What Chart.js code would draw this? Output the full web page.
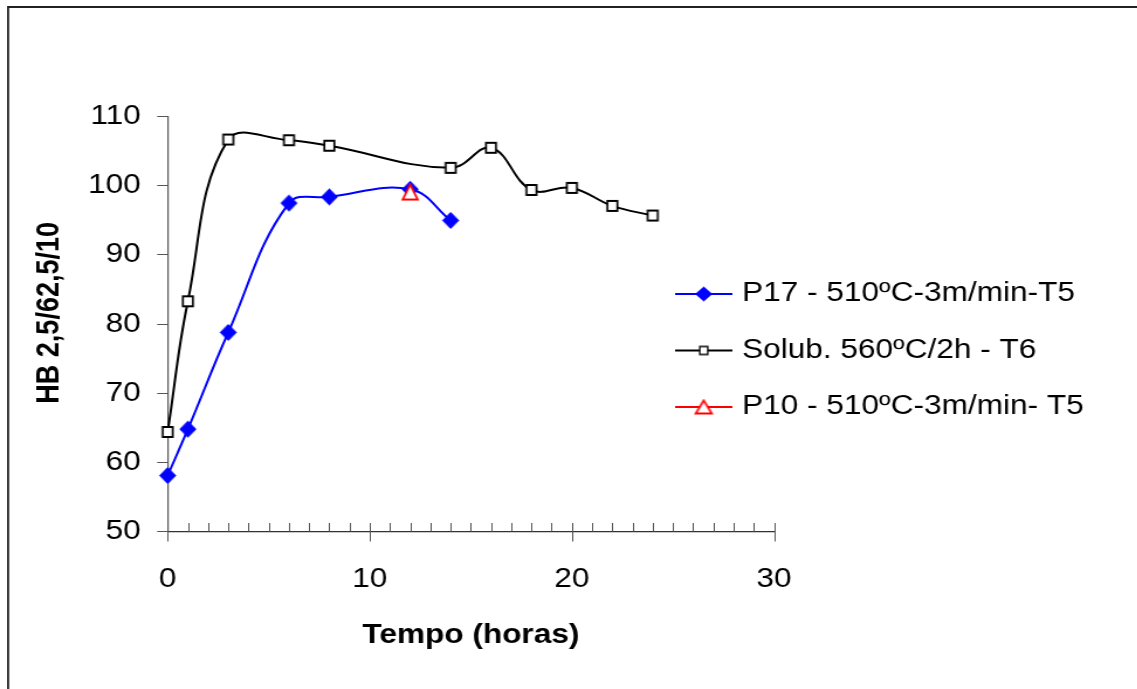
<!DOCTYPE html>
<html>
<head>
<meta charset="utf-8">
<script src="https://cdn.jsdelivr.net/npm/chart.js@4.4.0/dist/chart.umd.min.js"></script>
<style>
  html, body { margin: 0; padding: 0; background: #fff; overflow: hidden; }
  /* the original picture is stretched sideways, so the whole canvas is too */
  #wrap { width: 972px; height: 689px; transform: scaleX(1.17); transform-origin: 0 0; }
  canvas { display: block; }
</style>
</head>
<body>
<div id="wrap"><canvas id="myChart" width="972" height="689"></canvas></div>
<script>
const S = 1.17;
const FONT = 'Arial, "Liberation Sans", sans-serif';

// Tempo (horas) / dureza HB
const timeP17 = [0, 1, 3, 6, 8, 12, 14];
const hbP17 = [58.1, 64.8, 78.8, 97.5, 98.4, 99.5, 95.0];

const timeSolub = [0, 1, 3, 6, 8, 14, 16, 18, 20, 22, 24];
const hbSolub = [64.4, 83.3, 106.7, 106.6, 105.8, 102.6, 105.5, 99.4, 99.7, 97.1, 95.7];

const timeP10 = [12];
const hbP10 = [99.1];

const seriesNames = ['P17 - 510ºC-3m/min-T5', 'Solub. 560ºC/2h - T6', 'P10 - 510ºC-3m/min- T5'];

const xTickLabels = [0, 10, 20, 30];
const yTickLabels = [50, 60, 70, 80, 90, 100, 110];

function toPoints(xs, ys) {
  return xs.map((x, i) => ({ x: x, y: ys[i] }));
}

// markers are drawn squeezed so they come out right after the stretch
function makeMarker(kind, w, h, fill, stroke, lw) {
  const c = document.createElement('canvas');
  c.width = Math.ceil((w + lw) / S) + 2;
  c.height = Math.ceil(h + lw) + 2;
  const g = c.getContext('2d');
  g.translate(c.width / 2, c.height / 2);
  g.scale(1 / S, 1);
  g.beginPath();
  if (kind === 'square') {
    g.rect(-w / 2, -h / 2, w, h);
  } else if (kind === 'diamond') {
    g.moveTo(0, -h / 2); g.lineTo(w / 2, 0); g.lineTo(0, h / 2); g.lineTo(-w / 2, 0); g.closePath();
  } else {
    g.moveTo(0, -h / 2); g.lineTo(w / 2, h / 2); g.lineTo(-w / 2, h / 2); g.closePath();
  }
  g.fillStyle = fill;
  g.fill();
  g.lineWidth = lw;
  g.strokeStyle = stroke;
  g.stroke();
  return c;
}

const diamondDot = makeMarker('diamond', 16, 16, '#0000ff', '#0000ff', 1);
const squareDot = makeMarker('square', 10, 10, '#ffffff', '#000000', 2);
const triDot = makeMarker('triangle', 15, 15, '#ffffff', '#ff0000', 2);

const legendItems = [
  { color: '#0000ff', marker: makeMarker('diamond', 16, 14, '#0000ff', '#0000ff', 1), y: 294 },
  { color: '#000000', marker: makeMarker('square', 8, 8, '#ffffff', '#000000', 1.5), y: 350.5 },
  { color: '#ff0000', marker: makeMarker('triangle', 16, 13, '#ffffff', '#ff0000', 2), y: 407 }
];

const framePlugin = {
  id: 'frame',
  beforeDraw(chart) {
    const ctx = chart.ctx;
    ctx.save();
    ctx.fillStyle = '#fff';
    ctx.fillRect(0, 0, chart.width, chart.height);
    ctx.strokeStyle = '#222';
    ctx.lineWidth = 1.8;
    ctx.beginPath();
    ctx.moveTo(6.9, chart.height);
    ctx.lineTo(6.9, 7);
    ctx.lineTo(chart.width, 7);
    ctx.stroke();
    ctx.restore();
  },
  beforeDatasetsDraw(chart) {
    // x axis: minor ticks inside, major ticks crossing the axis
    const ctx = chart.ctx;
    const xs = chart.scales.x;
    const base = chart.chartArea.bottom;
    ctx.save();
    ctx.strokeStyle = '#555';
    ctx.lineWidth = 1;
    ctx.beginPath();
    for (let v = xs.min; v <= xs.max; v++) {
      const px = Math.round(xs.getPixelForValue(v)) + 0.5;
      ctx.moveTo(px, base - 8.5);
      ctx.lineTo(px, xTickLabels.includes(v) ? base + 10 : base);
    }
    ctx.stroke();
    ctx.restore();
  },
  afterDraw(chart) {
    const ctx = chart.ctx;
    ctx.save();
    ctx.font = '27px ' + FONT;
    ctx.textBaseline = 'middle';
    ctx.textAlign = 'left';
    legendItems.forEach((it, i) => {
      ctx.strokeStyle = it.color;
      ctx.lineWidth = 2;
      ctx.beginPath();
      ctx.moveTo(577, it.y);
      ctx.lineTo(626, it.y);
      ctx.stroke();
      const m = it.marker;
      ctx.drawImage(m, 601.5 - m.width / 2, it.y - m.height / 2);
      ctx.fillStyle = '#000';
      ctx.fillText(seriesNames[i], 634.2, it.y);
    });
    ctx.restore();
  }
};

const ctx = document.getElementById('myChart').getContext('2d');
const chart = new Chart(ctx, {
  type: 'line',
  data: {
    datasets: [
      {
        label: seriesNames[0],
        data: toPoints(timeP17, hbP17),
        borderColor: '#0000ff',
        borderWidth: 2,
        pointStyle: diamondDot,
        pointRadius: 8,
        tension: 0.4,
        clip: false,
        order: 2
      },
      {
        label: seriesNames[1],
        data: toPoints(timeSolub, hbSolub),
        borderColor: '#000000',
        borderWidth: 2,
        pointStyle: squareDot,
        pointRadius: 8,
        tension: 0.4,
        clip: false,
        order: 1
      },
      {
        label: seriesNames[2],
        data: toPoints(timeP10, hbP10),
        borderColor: '#ff0000',
        showLine: false,
        pointStyle: triDot,
        pointRadius: 8,
        clip: false,
        order: 0
      }
    ]
  },
  options: {
    responsive: false,
    animation: false,
    events: [],
    layout: { padding: { left: 26.3, right: 310.5, top: 116.7, bottom: 36.8 } },
    plugins: {
      legend: { display: false },
      tooltip: { enabled: false }
    },
    scales: {
      x: {
        type: 'linear',
        min: xTickLabels[0],
        max: xTickLabels[xTickLabels.length - 1],
        afterFit: (s) => { s.height = 120.7; },
        ticks: {
          stepSize: 1,
          autoSkip: false,
          maxRotation: 0,
          padding: 31.6,
          color: '#000',
          font: { family: FONT, size: 27 },
          callback: (v) => xTickLabels.includes(v) ? String(v) : ''
        },
        grid: { drawOnChartArea: false, drawTicks: false },
        border: { color: '#333', width: 1.2 },
        title: {
          display: true,
          text: 'Tempo (horas)',
          color: '#000',
          padding: 0,
          font: { family: FONT, size: 27, weight: 'bold' }
        }
      },
      y: {
        min: yTickLabels[0],
        max: yTickLabels[yTickLabels.length - 1],
        afterFit: (s) => { s.width = 117; },
        ticks: {
          stepSize: 10,
          padding: 14,
          color: '#000',
          font: { family: FONT, size: 27 }
        },
        grid: { drawOnChartArea: false, drawTicks: true, tickLength: 9, tickColor: '#555' },
        border: { color: '#555', width: 1.2 },
        title: {
          display: true,
          text: '   HB 2,5/62,5/10',
          color: '#000',
          padding: 0,
          font: { family: FONT, size: 27, weight: 'bold' }
        }
      }
    }
  },
  plugins: [framePlugin]
});
</script>
</body>
</html>
